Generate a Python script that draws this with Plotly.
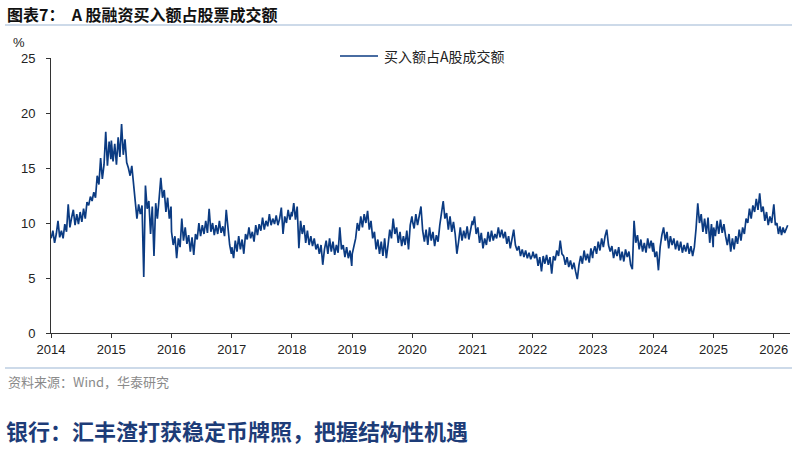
import pandas as pd
import plotly.graph_objects as go

# ---- data: A-share margin purchase as % of turnover (~10-day spacing) ----
v2014 = [8.6, 9.3, 8.2, 9.0, 10.2, 8.7, 9.3, 8.6, 9.9, 9.2, 11.7, 9.6, 10.5, 11.2, 9.8, 10.8, 9.9, 11.0,
         10.1, 11.3, 10.4, 11.9, 11.6, 12.4, 12.0, 12.8, 12.3, 14.3, 13.5, 15.9, 14.0, 15.3, 18.3, 15.2, 17.4, 15.8]
v2015 = [17.5, 15.6, 17.2, 15.3, 17.8, 16.0, 19.0, 16.2, 17.6, 15.5, 15.0, 14.3, 15.2, 13.5, 12.0, 10.4, 11.7, 10.8,
         11.6, 5.1, 13.4, 11.3, 12.0, 9.0, 11.5, 7.0, 11.8, 10.4, 12.2, 14.1, 12.3, 13.0, 11.0, 12.3, 10.4, 11.5]
v2016 = [9.2, 8.0, 8.8, 6.8, 8.6, 7.8, 10.4, 8.4, 9.6, 8.1, 8.9, 7.4, 8.7, 7.1, 9.0, 8.5, 10.0, 8.8,
         9.8, 9.0, 10.2, 9.1, 11.3, 9.2, 10.0, 8.9, 9.8, 9.0, 10.2, 9.1, 9.7, 8.8, 11.2, 9.3, 8.0, 7.2]
v2017 = [7.8, 6.8, 8.4, 7.4, 8.8, 7.6, 8.5, 7.2, 9.0, 8.5, 9.6, 8.6, 9.2, 8.3, 9.8, 8.9, 9.9, 9.3,
         10.5, 9.4, 10.2, 9.7, 10.8, 9.8, 10.4, 9.9, 10.7, 9.8, 10.4, 11.4, 9.0, 10.6, 10.0, 11.2, 10.3, 11.0]
v2018 = [10.6, 11.8, 10.3, 11.5, 7.7, 10.2, 9.0, 9.8, 8.2, 9.3, 8.0, 8.8, 7.9, 8.6, 7.6, 8.1, 7.2, 8.0,
         6.2, 7.6, 8.4, 7.2, 8.6, 7.4, 8.3, 7.1, 8.0, 7.3, 9.6, 7.6, 8.0, 6.9, 7.8, 6.8, 7.5, 6.1]
v2019 = [7.2, 7.9, 8.6, 10.0, 9.3, 10.6, 9.6, 10.8, 10.0, 11.1, 9.4, 10.2, 8.6, 9.2, 7.6, 8.5, 7.2, 8.3,
         7.0, 8.6, 6.8, 8.0, 9.4, 8.6, 10.4, 9.0, 9.6, 8.2, 9.2, 7.9, 8.8, 8.0, 9.3, 7.6, 9.8, 10.6]
v2020 = [10.2, 9.5, 10.8, 9.8, 10.6, 11.5, 9.3, 8.3, 9.4, 8.0, 9.6, 8.4, 9.2, 7.9, 8.9, 8.3, 9.8, 10.9,
         12.0, 10.4, 10.9, 9.4, 10.6, 9.2, 10.1, 9.0, 7.2, 8.3, 9.6, 8.4, 9.3, 8.6, 9.7, 8.5, 9.2, 10.2]
v2021 = [9.8, 10.6, 9.0, 9.6, 8.2, 9.1, 7.7, 8.6, 8.0, 9.2, 8.3, 9.3, 8.4, 9.0, 8.6, 9.6, 8.7, 9.4,
         8.6, 9.2, 8.1, 8.8, 7.7, 8.5, 9.4, 8.0, 7.5, 7.9, 7.0, 7.6, 6.9, 7.5, 6.8, 7.3, 6.7, 7.1]
v2022 = [7.4, 6.8, 7.2, 6.1, 6.9, 5.6, 7.0, 6.3, 7.1, 6.2, 6.9, 5.4, 7.0, 6.6, 7.5, 7.0, 8.4, 7.2,
         7.0, 6.2, 6.9, 6.0, 6.6, 5.8, 6.4, 5.6, 4.9, 6.2, 7.0, 6.3, 7.5, 6.6, 7.2, 6.4, 7.7, 6.8]
v2023 = [7.3, 7.9, 7.2, 8.3, 7.5, 8.6, 7.8, 8.8, 9.4, 8.0, 7.4, 7.9, 6.8, 7.6, 7.0, 7.8, 6.6, 7.4,
         6.5, 7.6, 6.9, 7.4, 6.2, 5.8, 10.2, 8.2, 8.9, 7.6, 8.5, 7.4, 8.2, 7.3, 8.6, 7.7, 8.4, 7.4]
v2024 = [8.2, 6.9, 7.4, 5.7, 7.8, 8.9, 9.6, 8.4, 9.2, 7.7, 8.8, 8.0, 8.6, 7.6, 8.4, 7.5, 8.3, 7.3,
         8.0, 7.4, 8.2, 7.2, 7.9, 7.0, 7.8, 9.5, 11.8, 10.0, 10.8, 9.2, 10.4, 9.0, 10.5, 8.2, 9.9, 7.8]
v2025 = [9.6, 8.8, 10.2, 9.0, 10.3, 9.1, 9.9, 8.8, 8.0, 9.0, 7.4, 8.6, 7.6, 8.8, 8.1, 9.4, 8.4, 9.6,
         9.0, 10.4, 10.0, 11.3, 10.4, 11.6, 11.0, 12.2, 11.2, 12.7, 11.0, 11.5, 10.2, 11.0, 9.8, 10.6, 10.0, 11.3]
v2026 = [11.7, 9.8, 10.0, 9.0, 9.7, 8.9, 9.6, 9.1, 9.4, 9.8]

year_values = [(2014, v2014), (2015, v2015), (2016, v2016), (2017, v2017), (2018, v2018), (2019, v2019),
               (2020, v2020), (2021, v2021), (2022, v2022), (2023, v2023), (2024, v2024), (2025, v2025)]

tick_years = list(range(2014, 2027))
series_name = "买入额占A股成交额"

dates, values = [], []
for yr, vals in year_values:
    d = pd.date_range(f"{yr}-01-02", f"{yr}-12-30", periods=len(vals))
    dates.extend(d)
    values.extend(vals)
d26 = pd.date_range("2026-01-02", "2026-03-27", periods=len(v2026))
dates.extend(d26)
values.extend(v2026)

# ---- geometry helpers (pixel -> paper) ----
L, R, T, B = 51, 790, 58, 333
W, H = 800, 458
def px(x):
    return (x - L) / (R - L)
def py(y):
    return (B - y) / (B - T)

LAT = "Liberation Sans, Arial, Noto Sans CJK SC, sans-serif"
CJK = "Noto Sans CJK SC, Liberation Sans, sans-serif"
LINE_COLOR = "#0b3b82"

fig = go.Figure()
fig.add_trace(go.Scatter(x=dates, y=values, mode="lines", name=series_name,
                         line=dict(color=LINE_COLOR, width=1.7), showlegend=False))

fig.update_layout(
    width=W, height=H,
    margin=dict(l=L, r=W - R, t=T, b=H - B, pad=0),
    paper_bgcolor="white", plot_bgcolor="white",
    font=dict(family=LAT, size=13, color="#222"),
    showlegend=False,
    xaxis=dict(type="date", range=["2014-01-01", "2026-04-10"],
               tickmode="array", tickvals=[f"{y}-01-01" for y in tick_years],
               ticktext=[str(y) for y in tick_years],
               showgrid=False, zeroline=False, showline=True, linecolor="#333", linewidth=1,
               ticks="outside", ticklen=4, tickcolor="#333",
               tickfont=dict(family=LAT, size=13, color="#222")),
    yaxis=dict(range=[0, 25], tickvals=[0, 5, 10, 15, 20, 25],
               showgrid=False, zeroline=False, showline=True, linecolor="#333", linewidth=1,
               ticks="outside", ticklen=4, tickcolor="#333", ticklabelstandoff=8,
               tickfont=dict(family=LAT, size=13, color="#222")),
)

annotations = [
    dict(text="<b>图表7：  A 股融资买入额占股票成交额</b>", x=px(5), y=py(14), xanchor="left", yanchor="middle",
         font=dict(family=CJK, size=16, color="#111")),
    dict(text="%", x=px(11), y=py(42), xanchor="left", yanchor="middle",
         font=dict(family=LAT, size=13, color="#222")),
    dict(text=series_name, x=px(382), y=py(56), xanchor="left", yanchor="middle",
         font=dict(family=CJK, size=14, color="#222")),
    dict(text="资料来源：Wind，华泰研究", x=px(6), y=py(381), xanchor="left", yanchor="middle",
         font=dict(family=CJK, size=13, color="#8a8a8a")),
    dict(text="<b>银行：汇丰渣打获稳定币牌照，把握结构性机遇</b>", x=px(4), y=py(430), xanchor="left", yanchor="middle",
         font=dict(family=CJK, size=22, color="#1d3c78")),
]
for a in annotations:
    a.update(xref="paper", yref="paper", showarrow=False)
fig.update_layout(annotations=annotations)

fig.update_layout(shapes=[
    dict(type="line", xref="paper", yref="paper", x0=px(5), x1=px(792), y0=py(25), y1=py(25),
         line=dict(color="#9bb5d3", width=1)),
    dict(type="line", xref="paper", yref="paper", x0=px(5), x1=px(792), y0=py(368), y1=py(368),
         line=dict(color="#9bb5d3", width=1)),
    dict(type="line", xref="paper", yref="paper", x0=px(340), x1=px(378), y0=py(56), y1=py(56),
         line=dict(color=LINE_COLOR, width=1.5)),
])

fig.write_html("out.html")
